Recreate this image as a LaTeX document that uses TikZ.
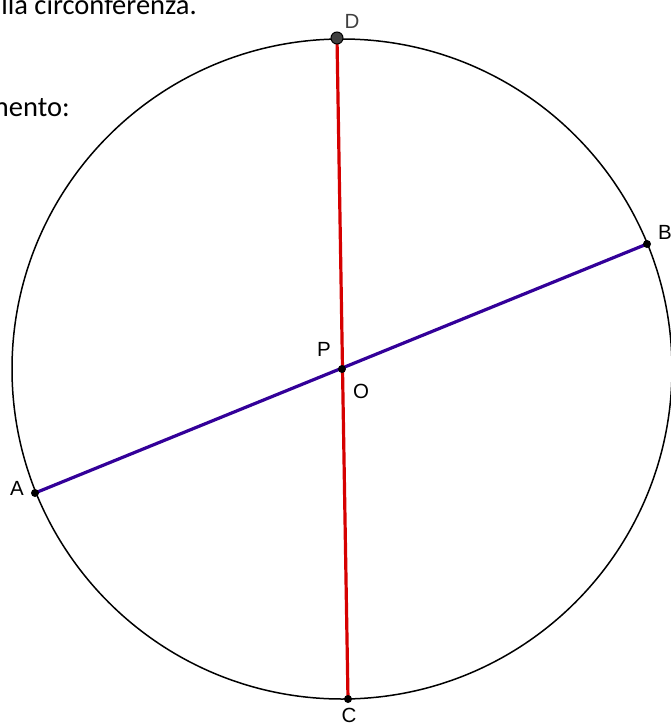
\documentclass[tikz,border=0pt]{standalone}
\usepackage{fontspec}
\setmainfont{Liberation Sans}
\newfontfamily\bodyfont{Carlito}
\definecolor{segred}{RGB}{214,0,0}
\definecolor{segblue}{RGB}{51,0,153}
\definecolor{dgrey}{RGB}{64,64,64}
\begin{document}
\begin{tikzpicture}[x=1pt,y=-1pt,
  ptdot/.style={circle,fill=black,inner sep=0pt,minimum size=8pt},
  bigdot/.style={circle,fill=dgrey,draw=black,line width=1pt,inner sep=0pt,minimum size=12pt},
  ptlabel/.style={font=\fontsize{20.5}{20.5}\selectfont,inner sep=0pt},
  bodytext/.style={font=\bodyfont\fontsize{28.5}{28.5}\selectfont,inner sep=0pt,anchor=base east}]
\useasboundingbox (0,0) rectangle (671,726);
\clip (0,0) rectangle (671,726);
\fill[white] (0,0) rectangle (671,726);
\node[bodytext] (t1) at (197,14) {lla circonferenza.};
\node[bodytext] (t2) at (70,116) {mento:};
\coordinate (O) at (342,369);
\draw[line width=1.5pt] (O) circle (330);
\coordinate (Dc) at (337,38);
\coordinate (Cc) at (348,699);
\coordinate (Ac) at (35,493);
\coordinate (Bc) at (647,244);
\draw[segblue,line width=3.2pt] (Ac) -- (Bc);
\draw[segred,line width=3.2pt] (Dc) -- (Cc);
\node[ptdot] (A) at (Ac) {};
\node[ptdot] (B) at (Bc) {};
\node[ptdot] (C) at (Cc) {};
\node[ptdot] (P) at (O) {};
\node[bigdot] (D) at (Dc) {};
\node[ptlabel,text=dgrey] (lD) at (352,21) {D};
\node[ptlabel] (lB) at (665,232) {B};
\node[ptlabel] (lP) at (324,349) {P};
\node[ptlabel] (lO) at (361,391) {O};
\node[ptlabel] (lA) at (17,488) {A};
\node[ptlabel] (lC) at (349,715) {C};
\end{tikzpicture}
\end{document}
